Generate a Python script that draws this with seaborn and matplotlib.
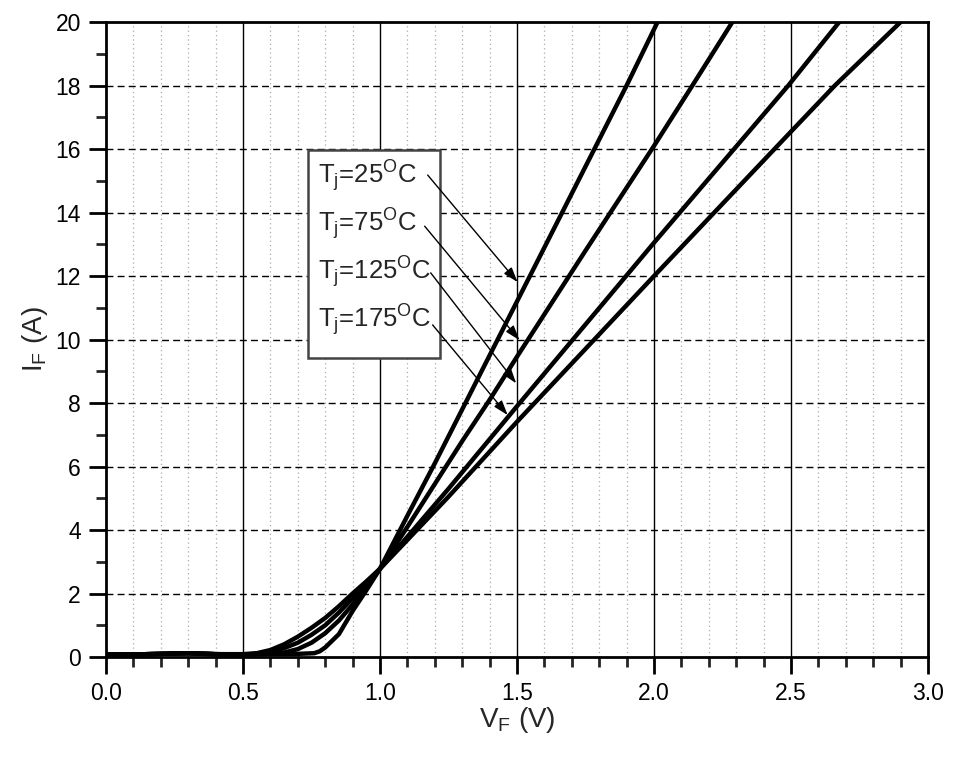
import numpy as np
import pandas as pd
import matplotlib
matplotlib.use("Agg")
import matplotlib.pyplot as plt
from matplotlib.ticker import MultipleLocator
import seaborn as sns

# forward characteristics
v_25 = [0.0, 0.1, 0.2, 0.3, 0.4, 0.5, 0.6, 0.7, 0.76, 0.78, 0.8, 0.85, 0.9, 0.95,
        1.0, 1.1, 1.2, 1.3, 1.4, 1.5, 1.6, 1.7, 1.8, 1.9, 2.013]
i_25 = [0.08, 0.08, 0.1, 0.12, 0.09, 0.08, 0.09, 0.1, 0.12, 0.18, 0.3, 0.72, 1.45, 2.1,
        2.78, 4.45, 6.1, 7.8, 9.5, 11.2, 12.9, 14.6, 16.3, 18.0, 20.0]

v_75 = [0.0, 0.1, 0.2, 0.3, 0.4, 0.5, 0.6, 0.65, 0.7, 0.75, 0.8, 0.85, 0.9, 0.95,
        1.0, 1.1, 1.2, 1.3, 1.4, 1.5, 1.75, 2.0, 2.14, 2.286]
i_75 = [0.08, 0.08, 0.1, 0.12, 0.09, 0.08, 0.1, 0.14, 0.25, 0.45, 0.75, 1.15, 1.65, 2.2,
        2.78, 4.1, 5.45, 6.8, 8.1, 9.46, 12.8, 16.1, 18.0, 20.0]

v_125 = [0.0, 0.1, 0.2, 0.3, 0.4, 0.5, 0.55, 0.6, 0.65, 0.7, 0.75, 0.8, 0.85, 0.9, 0.95,
         1.0, 1.25, 1.5, 2.0, 2.49, 2.676]
i_125 = [0.08, 0.08, 0.1, 0.12, 0.09, 0.08, 0.1, 0.15, 0.28, 0.45, 0.7, 1.0, 1.4, 1.85, 2.3,
         2.78, 5.3, 7.9, 13.05, 18.0, 20.0]

v_175 = [0.0, 0.1, 0.2, 0.3, 0.4, 0.5, 0.55, 0.6, 0.65, 0.7, 0.75, 0.8, 0.85, 0.9, 0.95,
         1.0, 1.25, 1.5, 2.0, 2.5, 2.66, 2.90]
i_175 = [0.08, 0.08, 0.1, 0.12, 0.09, 0.09, 0.12, 0.22, 0.4, 0.64, 0.92, 1.23, 1.6, 2.0, 2.38,
         2.78, 5.05, 7.41, 12.0, 16.55, 18.0, 20.0]

labels = ["25", "75", "125", "175"]
# arrow tail (text end) and head (curve) positions in data units
arrow_tail = [(1.174, 15.18), (1.163, 13.57), (1.185, 12.10), (1.192, 10.46)]
arrow_head = [(1.502, 11.81), (1.509, 9.98), (1.497, 8.62), (1.466, 7.62)]

frames = []
for lab, v, i in zip(labels, [v_25, v_75, v_125, v_175], [i_25, i_75, i_125, i_175]):
    frames.append(pd.DataFrame({"VF": v, "IF": i, "Tj": lab}))
df = pd.concat(frames, ignore_index=True)

sns.set_style("ticks")
plt.rcParams["font.family"] = ["Liberation Sans", "DejaVu Sans"]
plt.rcParams["mathtext.fontset"] = "custom"
plt.rcParams["mathtext.rm"] = "Liberation Sans"
plt.rcParams["mathtext.it"] = "Liberation Sans"

fig = plt.figure(figsize=(9.6, 7.6), dpi=100)
ax = fig.add_axes([0.1104, 0.1355, 0.8563, 0.8355])

# grid first so the curves sit on top
ax.set_xlim(0, 3.0)
ax.set_ylim(0, 20)
ax.xaxis.set_major_locator(MultipleLocator(0.5))
ax.xaxis.set_minor_locator(MultipleLocator(0.1))
ax.yaxis.set_major_locator(MultipleLocator(2))
ax.yaxis.set_minor_locator(MultipleLocator(1))
ax.grid(False)
for xv in np.arange(0.5, 3.0, 0.5):
    ax.axvline(xv, color="black", lw=1.0, zorder=1)
for xv in np.arange(0.1, 3.0, 0.1):
    if abs(xv / 0.5 - round(xv / 0.5)) > 1e-6:
        ax.axvline(xv, color="#aaaaaa", lw=0.9, ls=(0, (1, 2.5)), zorder=1)
for yv in np.arange(2, 20, 2):
    ax.axhline(yv, color="black", lw=1.0, ls=(0, (5, 3)), zorder=1)

sns.lineplot(data=df, x="VF", y="IF", hue="Tj", units="Tj", estimator=None, sort=False,
             palette={l: "black" for l in labels}, linewidth=3.2, legend=False, ax=ax,
             zorder=3)

ax.set_xticks(np.arange(0, 3.01, 0.5))
ax.set_xticklabels([f"{t:.1f}" for t in np.arange(0, 3.01, 0.5)])
ax.tick_params(axis="both", which="major", direction="out", length=12, width=2,
               labelsize=16.5, pad=6, colors="black")
ax.tick_params(axis="both", which="minor", direction="out", length=7, width=2)
ax.tick_params(top=False, right=False, which="both")
for s in ax.spines.values():
    s.set_visible(True)
    s.set_linewidth(2)
    s.set_color("black")

ax.set_xlabel(r"V$_{\rm F}$ (V)", fontsize=20, labelpad=0)
ax.set_ylabel(r"I$_{\rm F}$ (A)", fontsize=20, labelpad=4)

# text box with the four junction temperatures
box = plt.Rectangle((0.736, 9.42), 0.482, 6.55, fc="white", ec="#444444", lw=1.8, zorder=4)
ax.add_patch(box)
text_y = [15.16, 13.65, 12.11, 10.6]
for lab, ty in zip(labels, text_y):
    ax.text(0.775, ty, r"T$_{\rm j}$=" + lab + r"$^{\rm O}$C", fontsize=18.5, va="center",
            ha="left", zorder=5)

for tail, head in zip(arrow_tail, arrow_head):
    ax.annotate("", xy=head, xytext=tail, zorder=6,
                arrowprops=dict(arrowstyle="-|>,head_length=0.9,head_width=0.3",
                                color="black", lw=1.0, shrinkA=0, shrinkB=0))

fig.savefig("out.png", dpi=100)
